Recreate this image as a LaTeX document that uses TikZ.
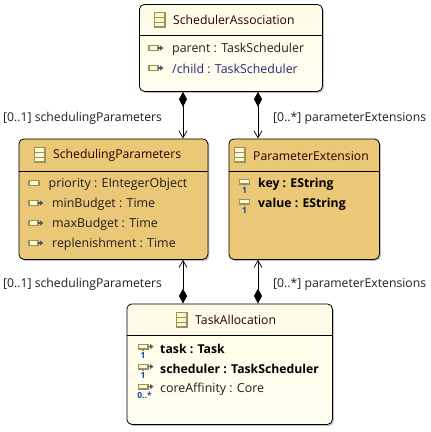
\documentclass[tikz,border=0pt]{standalone}
\usepackage{fontspec}
\setmainfont{Open Sans}
\usetikzlibrary{arrows.meta,shadows}
\definecolor{creamtop}{HTML}{FFFBE6}
\definecolor{creambot}{HTML}{FFFDF0}
\definecolor{tan}{HTML}{EBC778}
\definecolor{olive}{HTML}{9A9160}
\definecolor{iconfill}{HTML}{FBF8D0}
\definecolor{derived}{HTML}{2A2A78}
\definecolor{multblue}{HTML}{1A4A9F}
\tikzset{
  x=1pt,y=-1pt,
  boxbase/.style={draw=black,line width=0.8pt,rounded corners=5pt,inner sep=0pt,anchor=north west,
    drop shadow={shadow xshift=1.5pt,shadow yshift=-1.5pt,fill=black!40,opacity=0.6}},
  creambox/.style={boxbase,top color=creamtop,bottom color=creambot},
  tanbox/.style={boxbase,fill=tan},
  sepline/.style={line width=0.8pt,black},
  titletext/.style={anchor=west,inner sep=0pt,yshift=-0.8pt,font=\fontsize{12.2}{14}\selectfont,text=black!85!red},
  rowtext/.style={anchor=west,inner sep=0pt,yshift=-1.2pt,font=\fontsize{12.4}{14}\selectfont,text=black!88},
  boldtext/.style={anchor=west,inner sep=0pt,yshift=-1.2pt,font=\fontsize{12.25}{14}\selectfont\bfseries,text=black},
  lbl/.style={anchor=west,inner sep=0pt,yshift=-1.2pt,font=\fontsize{12.2}{14}\selectfont,text=black!88},
  multtext/.style={inner sep=0pt,text=multblue,font=\fontsize{8.5}{9}\selectfont\bfseries},
  assoc/.style={line width=0.8pt,black,{Diamond[length=15pt,width=8pt,fill=black]}-{Straight Barb[length=7pt,width=8pt,line width=0.7pt]}},
  pics/classicon/.style={code={
    \draw[olive,line width=1.3pt,fill=iconfill] (0,0) rectangle (10.5,14.5);
    \draw[olive,line width=1.2pt] (0,4.8) -- (10.5,4.8) (0,9.7) -- (10.5,9.7);
  }},
  pics/refattr/.style={code={
    \draw[olive,line width=1.2pt,fill=iconfill] (0,-2.4) rectangle (9,2.4);
    \fill[black!65] (9,-0.9) rectangle (11.5,0.9);
    \fill[black!65] (11,-2.6) -- (14.5,0) -- (11,2.6) -- cycle;
  }},
  pics/plainattr/.style={code={
    \draw[olive,line width=1.2pt,fill=iconfill] (0,-2.4) rectangle (10,2.4);
  }},
  pics/keyattr/.style={code={
    \draw[olive,line width=1.2pt,fill=iconfill] (0,-3.6) rectangle (10,1);
    \draw[olive,line width=1.2pt] (5,1) -- (5,2.8);
    \node[multtext] at (5,7) {1};
  }},
  pics/refkeyattr/.style={code={
    \draw[olive,line width=1.2pt,fill=iconfill] (0,-3.6) rectangle (9.5,1);
    \fill[black!65] (9.5,-2.2) rectangle (12,-0.6);
    \fill[black!65] (11.5,-4) -- (15,-1.4) -- (11.5,1.2) -- cycle;
    \draw[olive,line width=1.2pt] (4.5,1) -- (4.5,2.8);
    \node[multtext] at (4.5,7) {1};
  }},
  pics/manyattr/.style={code={
    \draw[olive,line width=1.2pt,fill=iconfill] (2.5,-3.6) rectangle (12,1);
    \fill[black!65] (12,-2.2) rectangle (14.5,-0.6);
    \fill[black!65] (14,-4) -- (17.5,-1.4) -- (14,1.2) -- cycle;
    \node[multtext] at (8.5,7) {0..*};
  }},
}
\begin{document}
\begin{tikzpicture}
\useasboundingbox (0,0) rectangle (431,432);
\fill[white] (0,0) rectangle (431,432);

% class boxes
\node[creambox,minimum width=183pt,minimum height=87pt] (sa) at (139,4) {};
\node[tanbox,minimum width=189pt,minimum height=120.5pt] (sp) at (18.5,138.5) {};
\node[tanbox,minimum width=150.5pt,minimum height=120.5pt] (pe) at (228.5,138.5) {};
\node[creambox,minimum width=205.5pt,minimum height=120.5pt] (ta) at (126.5,303.5) {};

% title separators
\coordinate (sasep) at (0,35);
\coordinate (spsep) at (0,171);
\coordinate (tasep) at (0,335);
\draw[sepline] (sa.west |- sasep) -- (sa.east |- sasep);
\draw[sepline] (sp.west |- spsep) -- (sp.east |- spsep);
\draw[sepline] (pe.west |- spsep) -- (pe.east |- spsep);
\draw[sepline] (ta.west |- tasep) -- (ta.east |- tasep);

% connectors
\coordinate (cl) at (183,0);
\coordinate (cr) at (258,0);
\draw[assoc] (sa.south -| cl) -- (sp.north -| cl);
\draw[assoc] (sa.south -| cr) -- (pe.north -| cr);
\draw[assoc] (ta.north -| cl) -- (sp.south -| cl);
\draw[assoc] (ta.north -| cr) -- (pe.south -| cr);

% SchedulerAssociation
\pic at (154.5,12.5) {classicon};
\node[titletext] (satitle) at (173,19.5) {SchedulerAssociation};
\pic at (149,48) {refattr};
\node[rowtext] (saparent) at (172,48) {parent : TaskScheduler};
\pic at (149,68) {refattr};
\node[rowtext,text=derived] (sachild) at (172,68) {/child : TaskScheduler};

% SchedulingParameters
\pic at (34.5,147.5) {classicon};
\node[titletext] (sptitle) at (53,155) {SchedulingParameters};
\pic at (29,183) {plainattr};
\node[rowtext] (sppriority) at (48.5,183) {priority : EIntegerObject};
\pic at (29,203) {refattr};
\node[rowtext] (spmin) at (52,203) {minBudget : Time};
\pic at (29,223) {refattr};
\node[rowtext] (spmax) at (52,223) {maxBudget : Time};
\pic at (29,243) {refattr};
\node[rowtext] (sprep) at (52,243) {replenishment : Time};

% ParameterExtension
\pic at (234.5,147.5) {classicon};
\node[titletext] (petitle) at (253,155) {ParameterExtension};
\pic at (239.5,183) {keyattr};
\node[boldtext] (pekey) at (258,183) {key : EString};
\pic at (239.5,203) {keyattr};
\node[boldtext] (peval) at (258,203) {value : EString};

% TaskAllocation
\pic at (176.5,312.5) {classicon};
\node[titletext] (tatitle) at (195,319.5) {TaskAllocation};
\pic at (138.5,348) {refkeyattr};
\node[boldtext] (tatask) at (160,348) {task : Task};
\pic at (138.5,368) {refkeyattr};
\node[boldtext] (tasched) at (160,368) {scheduler : TaskScheduler};
\pic at (136,388) {manyattr};
\node[rowtext] (tacore) at (160,388) {coreAffinity : Core};

% role labels
\node[lbl] (l1) at (3,117) {[0..1] schedulingParameters};
\node[lbl] (l2) at (273,117) {[0..*] parameterExtensions};
\node[lbl] (l3) at (3,283) {[0..1] schedulingParameters};
\node[lbl] (l4) at (273,283) {[0..*] parameterExtensions};
\end{tikzpicture}
\end{document}
